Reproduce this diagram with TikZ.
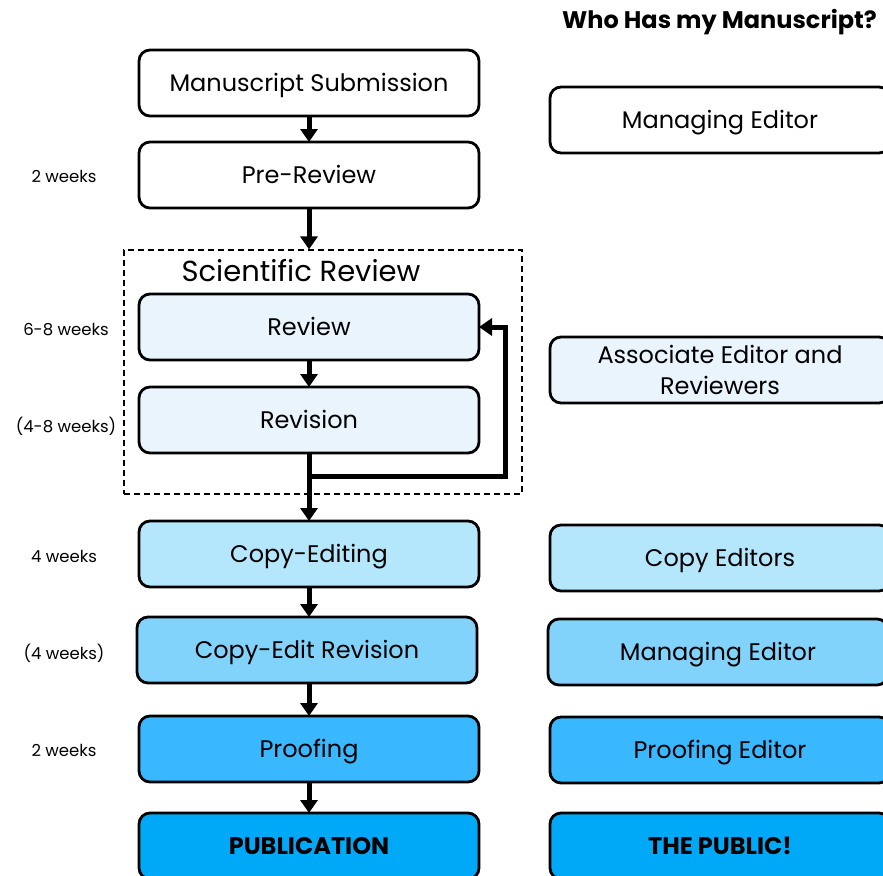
\documentclass[tikz,border=0pt]{standalone}
\usepackage{fontspec}
\setmainfont{Poppins}
\usetikzlibrary{arrows.meta,positioning}

\definecolor{revblue}{HTML}{E9F4FD}
\definecolor{copyblue}{HTML}{B4E6FC}
\definecolor{cerblue}{HTML}{82D3FB}
\definecolor{proofblue}{HTML}{39B8FF}
\definecolor{pubblue}{HTML}{00A9F7}

\begin{document}
\begin{tikzpicture}[
  x=1pt,y=-1pt,
  font=\fontsize{24}{31}\selectfont,
  node distance=26pt,
  box/.style={draw,line width=2.8pt,rounded corners=11pt,minimum width=340pt,
              minimum height=66pt,align=center,fill=white,inner sep=0pt,
              outer sep=0pt,text height=17pt,text depth=0pt},
  who/.style={box},
  dashbox/.style={draw,line width=1.2pt,dash pattern=on 6pt off 4pt,
                  minimum width=398pt,minimum height=244pt},
  ar/.style={-{Triangle[length=13pt,width=17pt]},line width=5pt},
  lbl/.style={font=\fontsize{16.5}{20}\selectfont,inner sep=0pt}
]
\useasboundingbox (0,0) rectangle (883,875);

% steps of the manuscript
\node[box] (subm) at (309,83) {Manuscript Submission};
\node[box,below=of subm] (pre) {Pre-Review};
\node[dashbox] (sci) at (323,372) {};
\node[font=\fontsize{29}{34}\selectfont] (scititle) at (301,271) {Scientific Review};
\node[box,fill=revblue] (review) at (309,327) {Review};
\node[box,fill=revblue,below=27pt of review] (revision) {Revision};
\node[box,fill=copyblue] (copy) at (309,554) {Copy-Editing};
\node[box,fill=cerblue,below=30pt of copy,xshift=-2pt] (cer) {Copy-Edit Revision};
\node[box,fill=proofblue,below=33pt of cer,xshift=2pt] (proof) {Proofing};
\node[box,fill=pubblue,below=31pt of proof] (pub) {\textbf{PUBLICATION}};

% durations
\node[lbl] (t1) at (64,176) {2 weeks};
\node[lbl] (t2) at (66,330) {6-8 weeks};
\node[lbl] (t3) at (66,426) {(4-8 weeks)};
\node[lbl] (t4) at (64,556) {4 weeks};
\node[lbl] (t5) at (64,653) {(4 weeks)};
\node[lbl] (t6) at (64,750) {2 weeks};

% who has it
\node[font=\fontsize{24}{28}\selectfont\bfseries,anchor=east,inner sep=0pt] (whotitle)
  at (877,22) {Who Has my Manuscript?};
\node[who] (me1) at (720,120) {Managing Editor};
\node[who,fill=revblue,text height=,text depth=] (ae) at (720,370)
  {Associate Editor and\\Reviewers};
\node[who,fill=copyblue] (ce) at (720,558) {Copy Editors};
\node[who,fill=cerblue] (me2) at (718,652) {Managing Editor};
\node[who,fill=proofblue] (pe) at (720,750) {Proofing Editor};
\node[who,fill=pubblue] (public) at (720,846) {\textbf{THE PUBLIC!}};

% arrows
\coordinate (split) at (revision.south |- 0,476);
\draw[ar] (subm) -- (pre);
\draw[ar] (pre) -- (pre.south |- sci.north);
\draw[ar] (review) -- (revision);
\draw[ar] (revision) -- (copy);
\draw[ar] (split) -- ++(196,0) |- (review.east);
\draw[ar] (copy.south) -- (copy.south |- cer.north);
\draw[ar] (cer.south -| proof.north) -- (proof.north);
\draw[ar] (proof) -- (pub);
\end{tikzpicture}
\end{document}
